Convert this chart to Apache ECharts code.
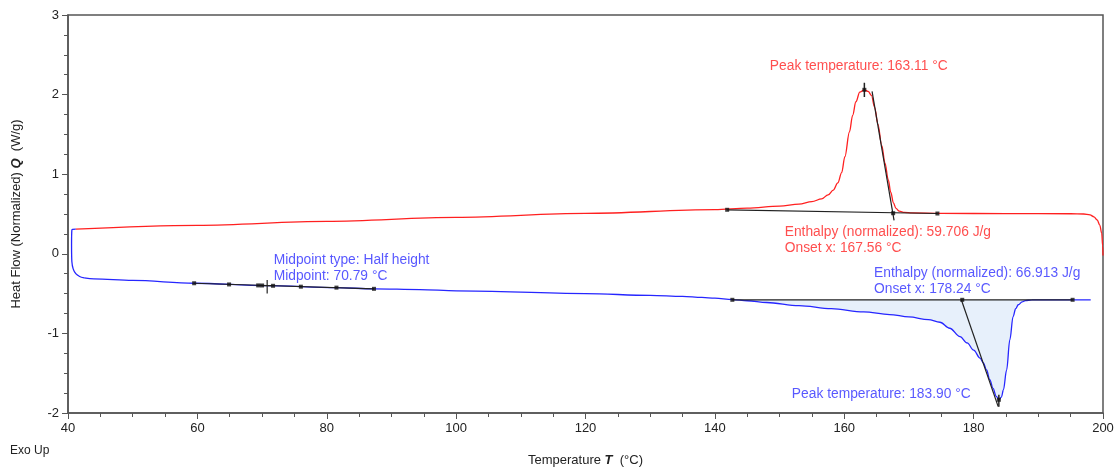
<!DOCTYPE html>
<html>
<head>
<meta charset="utf-8">
<script src="https://cdn.jsdelivr.net/npm/echarts@6/dist/echarts.min.js"></script>
<style>
html,body{margin:0;padding:0;background:#fff;}
#chart{width:1120px;height:467px;}
</style>
</head>
<body>
<div id="chart"></div>
<script>
// ---- Data ----
const xTicks = [40, 60, 80, 100, 120, 140, 160, 180, 200];
const yTicks = [-2, -1, 0, 1, 2, 3];

// Red curve (Temperature °C, Heat flow W/g)
const redT = [41.2, 60, 80, 100, 120, 140, 145, 150, 153, 155, 156.5, 157.5, 158.3, 159, 159.6, 160.1, 160.8, 161.3, 161.8, 162.4, 163.1, 163.7, 164.2, 164.7, 165.2, 165.8, 166.3, 166.8, 167.2, 167.6, 168.0, 168.5, 169.3, 170.5, 175, 185, 195, 197, 198, 198.6, 199.1, 199.5, 199.8, 199.95, 200];
const redQ = [0.31, 0.358, 0.408, 0.458, 0.508, 0.555, 0.575, 0.6, 0.625, 0.655, 0.69, 0.74, 0.8, 0.89, 1.02, 1.22, 1.53, 1.74, 1.91, 2.03, 2.06, 2.04, 1.99, 1.84, 1.63, 1.36, 1.14, 0.93, 0.77, 0.64, 0.57, 0.535, 0.52, 0.513, 0.508, 0.505, 0.503, 0.5, 0.488, 0.465, 0.425, 0.36, 0.26, 0.1, -0.02];

// Blue curve: initial drop (first points) then the main trace
const blueStartCount = 8;
const blueT = [41.2, 40.6, 40.55, 40.6, 40.8, 41.2, 41.8, 42.5, 44, 50, 59.5, 70.7, 81.5, 87.3, 94.4, 100, 120, 130, 135, 138, 140, 142.7, 145, 148, 153, 158, 163, 167, 170, 173, 174.8, 176.3, 177.9, 179, 180, 181, 181.5, 182, 182.5, 183, 183.5, 183.9, 184.3, 184.6, 185.1, 185.6, 186.1, 186.5, 186.9, 187.5, 188, 189, 195.3, 198.1];
const blueQ = [0.31, 0.30, 0.1, -0.1, -0.19, -0.25, -0.285, -0.303, -0.315, -0.335, -0.37, -0.40, -0.425, -0.44, -0.45, -0.465, -0.50, -0.522, -0.535, -0.548, -0.558, -0.575, -0.59, -0.612, -0.652, -0.69, -0.73, -0.763, -0.793, -0.828, -0.86, -0.935, -1.04, -1.12, -1.21, -1.31, -1.37, -1.46, -1.58, -1.69, -1.79, -1.834, -1.80, -1.71, -1.46, -1.08, -0.79, -0.69, -0.64, -0.605, -0.587, -0.58, -0.578, -0.578];

// Evaluation constructions
const redBaseline = [[141.9, 0.553], [174.4, 0.506]];
const redTangent = [[164.3, 2.04], [167.7, 0.42]];
const redPeakTick = [[163.11, 1.97], [163.11, 2.15]];
const redDots = [[141.9, 0.553], [167.56, 0.51], [174.4, 0.506], [163.11, 2.06]];

const blueBaseline = [[142.7, -0.578], [195.3, -0.578]];
const blueTangent = [[178.1, -0.578], [183.8, -1.92]];
const bluePeakTick = [[183.9, -1.77], [183.9, -1.92]];
const blueDots = [[142.7, -0.578], [195.3, -0.578], [178.24, -0.578], [183.9, -1.834]];
const fillRange = [142.7, 188.5];
const fillBase = -0.578;

const midLine = [[59.5, -0.37], [87.3, -0.44]];
const midDots = [[59.5, -0.37], [64.9, -0.385], [69.4, -0.397], [70.0, -0.398], [71.7, -0.402], [76, -0.413], [81.5, -0.425], [87.3, -0.44]];
const midCrossV = [[70.79, -0.33], [70.79, -0.50]];
const midCrossH = [[70.0, -0.40], [71.6, -0.40]];

// Annotations: [x, y, text, colorKey]
const annotations = [
  [148.5, 2.36, 'Peak temperature: 163.11 °C', 'red'],
  [150.8, 0.176, 'Enthalpy (normalized): 59.706 J/g\nOnset x: 167.56 °C', 'red'],
  [164.6, -0.339, 'Enthalpy (normalized): 66.913 J/g\nOnset x: 178.24 °C', 'blue'],
  [151.9, -1.76, 'Peak temperature: 183.90 °C', 'blue'],
  [71.8, -0.176, 'Midpoint type: Half height\nMidpoint: 70.79 °C', 'blue']
];

// ---- Build ----
const zip = (a, b) => a.map((v, i) => [v, b[i]]);
const RED = '#ff2020', BLUE = '#2626ff', RED_T = '#ff2222', BLUE_T = '#2e2eff';
const FONT = '"Liberation Sans", Arial, sans-serif';

const blueAll = zip(blueT, blueQ);
const blueStart = blueAll.slice(0, blueStartCount);
const blueMain = blueAll.slice(blueStartCount - 1);
const fillPts = blueAll.filter((p, i) => i >= blueStartCount && p[0] >= fillRange[0] && p[0] <= fillRange[1]);

function blackLine(data, w) {
  return {
    type: 'line', data: data, symbol: 'none', silent: true,
    lineStyle: { color: '#222', width: w || 1.2 }, z: 5
  };
}
function dots(data) {
  return {
    type: 'scatter', data: data, symbol: 'rect', symbolSize: 4, silent: true,
    itemStyle: { color: '#111' }, z: 6
  };
}
const rich = {
  a: { fontSize: 13, color: '#222', fontFamily: FONT },
  b: { fontSize: 13, color: '#222', fontFamily: FONT, fontWeight: 'bold', fontStyle: 'italic' }
};

const chart = echarts.init(document.getElementById('chart'), null, { renderer: 'canvas' });
chart.setOption({
  animation: false,
  backgroundColor: '#fff',
  grid: { left: 68, right: 17, top: 15, bottom: 54, show: true, borderColor: '#555', borderWidth: 1.5, containLabel: false, outerBoundsMode: 'none' },
  xAxis: {
    type: 'value', min: 40, max: 200, interval: 20,
    axisLine: { show: true, onZero: false, lineStyle: { color: '#555', width: 1.5 } },
    axisTick: { show: true, length: 6, lineStyle: { color: '#555' } },
    minorTick: { show: true, splitNumber: 4, length: 4, lineStyle: { color: '#555' } },
    splitLine: { show: false },
    axisLabel: { color: '#222', fontSize: 13, fontFamily: FONT, margin: 9, formatter: v => xTicks.includes(v) ? String(v) : '' },
    name: '{a|Temperature }{b|T}{a|  (°C)}',
    nameLocation: 'middle', nameGap: 41,
    nameTextStyle: { rich: rich }
  },
  yAxis: {
    type: 'value', min: -2, max: 3, interval: 1,
    axisLine: { show: true, onZero: false, lineStyle: { color: '#555', width: 1.5 } },
    axisTick: { show: true, length: 6, lineStyle: { color: '#555' } },
    minorTick: { show: true, splitNumber: 4, length: 4, lineStyle: { color: '#555' } },
    splitLine: { show: false },
    axisLabel: { color: '#222', fontSize: 13, fontFamily: FONT, margin: 9, formatter: v => yTicks.includes(v) ? String(v) : '' },
    name: '{a|Heat Flow (Normalized) }{b|Q}{a|  (W/g)}',
    nameLocation: 'middle', nameGap: 45, nameRotate: 90,
    nameTextStyle: { rich: rich }
  },
  graphic: [{
    type: 'text', left: 10, top: 445,
    style: { text: 'Exo Up', fill: '#222', font: '12px ' + FONT }
  }],
  series: [
    {
      type: 'custom', silent: true, z: 1,
      data: [[fillRange[0], fillBase]],
      renderItem: function (params, api) {
        const pts = fillPts.map(p => api.coord(p));
        pts.push(api.coord([fillRange[1], fillBase]));
        pts.push(api.coord([fillRange[0], fillBase]));
        return { type: 'polygon', shape: { points: pts }, style: { fill: '#e7f0fb', stroke: null } };
      }
    },
    {
      type: 'line', data: zip(redT, redQ), symbol: 'none', smooth: 0.35, smoothMonotone: 'x',
      lineStyle: { color: RED, width: 1.3 }, z: 3, silent: true
    },
    {
      type: 'line', data: blueStart, symbol: 'none', smooth: 0.3,
      lineStyle: { color: BLUE, width: 1.3 }, z: 3, silent: true
    },
    {
      type: 'line', data: blueMain, symbol: 'none', smooth: 0.35, smoothMonotone: 'x',
      lineStyle: { color: BLUE, width: 1.3 }, z: 3, silent: true
    },
    blackLine(redBaseline),
    blackLine(redTangent),
    blackLine(redPeakTick, 1.5),
    blackLine(blueBaseline),
    blackLine(blueTangent),
    blackLine(bluePeakTick, 1.5),
    blackLine(midLine),
    blackLine(midCrossV),
    blackLine(midCrossH),
    dots(redDots), dots(blueDots), dots(midDots),
    {
      type: 'scatter', silent: true, symbolSize: 0, z: 10,
      data: annotations.map(a => ({
        value: [a[0], a[1]],
        label: {
          show: true, position: 'right', distance: 0, formatter: a[2],
          color: a[3] === 'red' ? RED_T : BLUE_T,
          fontSize: 13.8, lineHeight: 16, fontFamily: FONT, align: 'left', verticalAlign: 'middle'
        }
      }))
    }
  ]
});
</script>
</body>
</html>
